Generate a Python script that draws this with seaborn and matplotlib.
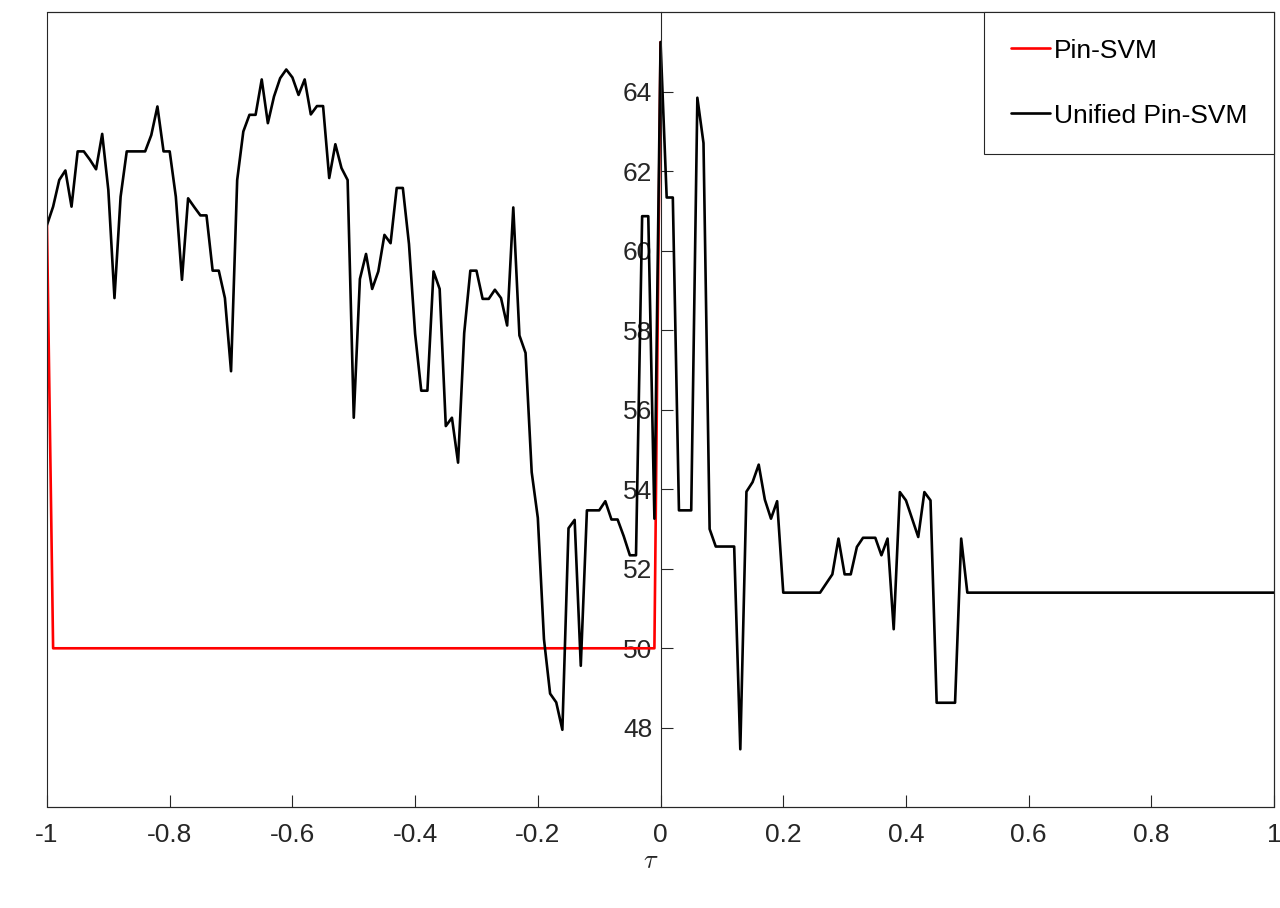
import numpy as np
import pandas as pd
import matplotlib
matplotlib.use("Agg")
import matplotlib.pyplot as plt
from matplotlib.patches import Rectangle
import seaborn as sns

# tau grid, step 0.01 from -1 to 1
tau = np.round(np.linspace(-1, 1, 201), 2)

# Unified Pin-SVM accuracy, tau = -1.00 ... 1.00
unified_pin_svm = [
    60.65, 61.11, 61.78, 62.02, 61.11, 62.50, 62.50, 62.29, 62.05, 62.94,  # -1.00 .. -0.91
    61.53, 58.81, 61.36, 62.50, 62.50, 62.50, 62.50, 62.91, 63.63, 62.50,  # -0.90 .. -0.81
    62.50, 61.36, 59.27, 61.32, 61.10, 60.89, 60.89, 59.50, 59.50, 58.81,  # -0.80 .. -0.71
    56.97, 61.78, 63.00, 63.42, 63.42, 64.31, 63.21, 63.88, 64.34, 64.56,  # -0.70 .. -0.61
    64.36, 63.92, 64.31, 63.43, 63.64, 63.64, 61.83, 62.68, 62.08, 61.78,  # -0.60 .. -0.51
    55.80, 59.29, 59.92, 59.04, 59.48, 60.40, 60.19, 61.58, 61.58, 60.17,  # -0.50 .. -0.41
    57.91, 56.48, 56.48, 59.48, 59.04, 55.59, 55.80, 54.67, 57.93, 59.50,  # -0.40 .. -0.31
    59.50, 58.79, 58.79, 59.02, 58.81, 58.12, 61.09, 57.87, 57.43, 54.43,  # -0.30 .. -0.21
    53.28, 50.23, 48.86, 48.64, 47.95, 53.02, 53.23, 49.56, 53.47, 53.47,  # -0.20 .. -0.11
    53.47, 53.70, 53.24, 53.24, 52.82, 52.34, 52.34, 60.87, 60.87, 53.26,  # -0.10 .. -0.01
    65.25, 61.34, 61.34, 53.47, 53.47, 53.47, 63.85, 62.71, 53.00, 52.56,  #  0.00 ..  0.09
    52.56, 52.56, 52.56, 47.46, 53.94, 54.18, 54.62, 53.74, 53.26, 53.70,  #  0.10 ..  0.19
    51.40, 51.40, 51.40, 51.40, 51.40, 51.40, 51.40, 51.63, 51.86, 52.76,  #  0.20 ..  0.29
    51.86, 51.86, 52.55, 52.78, 52.78, 52.78, 52.34, 52.76, 50.48, 53.93,  #  0.30 ..  0.39
    53.72, 53.26, 52.80, 53.93, 53.72, 48.63, 48.63, 48.63, 48.63, 52.76,  #  0.40 ..  0.49
    51.40, 51.40, 51.40, 51.40, 51.40, 51.40, 51.40, 51.40, 51.40, 51.40,  #  0.50 ..  0.59
    51.40, 51.40, 51.40, 51.40, 51.40, 51.40, 51.40, 51.40, 51.40, 51.40,  #  0.60 ..  0.69
    51.40, 51.40, 51.40, 51.40, 51.40, 51.40, 51.40, 51.40, 51.40, 51.40,  #  0.70 ..  0.79
    51.40, 51.40, 51.40, 51.40, 51.40, 51.40, 51.40, 51.40, 51.40, 51.40,  #  0.80 ..  0.89
    51.40, 51.40, 51.40, 51.40, 51.40, 51.40, 51.40, 51.40, 51.40, 51.40,  #  0.90 ..  0.99
    51.40,                                                                 #  1.00
]

# Pin-SVM accuracy, only drawn for tau = -1.00 ... 0.00
pin_svm = [
    60.65, 50.00, 50.00, 50.00, 50.00, 50.00, 50.00, 50.00, 50.00, 50.00,
    50.00, 50.00, 50.00, 50.00, 50.00, 50.00, 50.00, 50.00, 50.00, 50.00,
    50.00, 50.00, 50.00, 50.00, 50.00, 50.00, 50.00, 50.00, 50.00, 50.00,
    50.00, 50.00, 50.00, 50.00, 50.00, 50.00, 50.00, 50.00, 50.00, 50.00,
    50.00, 50.00, 50.00, 50.00, 50.00, 50.00, 50.00, 50.00, 50.00, 50.00,
    50.00, 50.00, 50.00, 50.00, 50.00, 50.00, 50.00, 50.00, 50.00, 50.00,
    50.00, 50.00, 50.00, 50.00, 50.00, 50.00, 50.00, 50.00, 50.00, 50.00,
    50.00, 50.00, 50.00, 50.00, 50.00, 50.00, 50.00, 50.00, 50.00, 50.00,
    50.00, 50.00, 50.00, 50.00, 50.00, 50.00, 50.00, 50.00, 50.00, 50.00,
    50.00, 50.00, 50.00, 50.00, 50.00, 50.00, 50.00, 50.00, 50.00, 50.00,
    65.25,
]

x_ticks = [-1, -0.8, -0.6, -0.4, -0.2, 0, 0.2, 0.4, 0.6, 0.8, 1]
x_tick_labels = ['-1', '-0.8', '-0.6', '-0.4', '-0.2', '0', '0.2', '0.4', '0.6', '0.8', '1']
y_ticks = [48, 50, 52, 54, 56, 58, 60, 62, 64]

df_unified = pd.DataFrame({'tau': tau, 'acc': unified_pin_svm})
df_pin = pd.DataFrame({'tau': tau[:len(pin_svm)], 'acc': pin_svm})

sns.set_style('white')
plt.rcParams['font.family'] = ['Liberation Sans', 'DejaVu Sans']
plt.rcParams['mathtext.fontset'] = 'cm'

axis_color = '#262626'
font_size = 19

fig = plt.figure(figsize=(12.8, 9.08), dpi=100)
ax = fig.add_axes([0.0367, 0.1109, 0.9587, 0.8756])

sns.lineplot(data=df_pin, x='tau', y='acc', color='#ff0000', linewidth=1.9,
             label='Pin-SVM', estimator=None, sort=False, ax=ax)
sns.lineplot(data=df_unified, x='tau', y='acc', color='#000000', linewidth=1.9,
             label='Unified Pin-SVM', estimator=None, sort=False, ax=ax)

ax.set_xlim(-1, 1)
ax.set_ylim(46, 66)
ax.set_xticks(x_ticks)
ax.set_xticklabels(x_tick_labels)
ax.set_yticks(y_ticks)
ax.set_yticklabels([str(v) for v in y_ticks])

# y axis drawn through the origin, box kept around the plot
for side in ['left', 'right', 'top', 'bottom']:
    ax.spines[side].set_color(axis_color)
    ax.spines[side].set_linewidth(0.8)
    ax.spines[side].set_visible(True)
ax.spines['left'].set_position(('data', 0))
ax.add_patch(Rectangle((0, 0), 1, 1, transform=ax.transAxes, fill=False,
                       edgecolor=axis_color, linewidth=0.8, clip_on=False, zorder=5))

ax.tick_params(axis='both', direction='in', length=8.5, width=0.8,
               colors=axis_color, labelsize=font_size, labelcolor=axis_color)
ax.tick_params(axis='y', pad=6, left=True, right=False)
ax.tick_params(axis='x', pad=11, bottom=True, top=False)

ax.set_xlabel(r'$\tau$', fontsize=19, color=axis_color)
ax.xaxis.set_label_coords(0.492, -0.052)
ax.set_ylabel('')

leg = ax.legend(loc='upper right', borderaxespad=0, fancybox=False, framealpha=1,
                edgecolor=axis_color, fontsize=font_size, handlelength=1.5,
                handletextpad=0.15, labelspacing=1.55, borderpad=1.0)
leg.get_frame().set_linewidth(0.8)
for txt in leg.get_texts():
    txt.set_color('black')

plt.savefig('out.png', dpi=100)
plt.close()
